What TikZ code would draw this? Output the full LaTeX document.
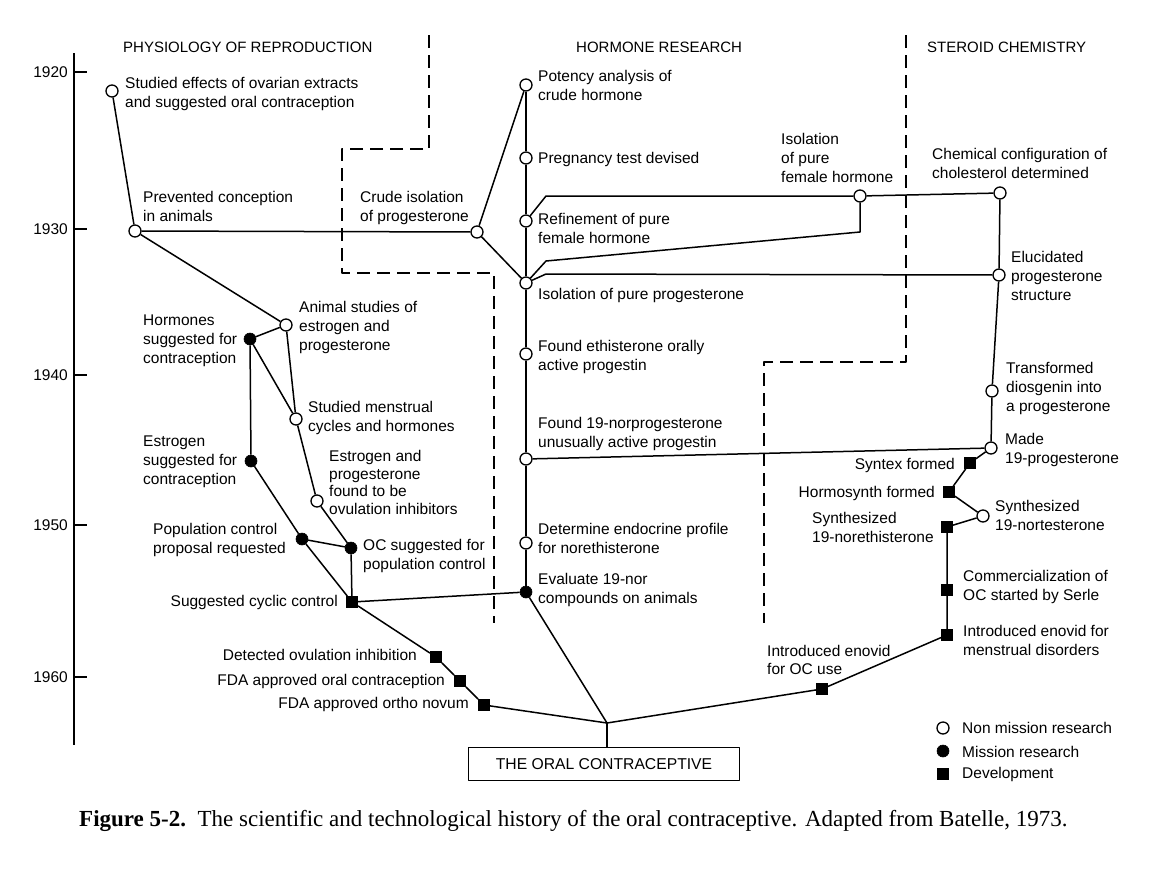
\documentclass[tikz,border=0pt]{standalone}
\usepackage{fontspec}
\setmainfont{Liberation Serif}
\setsansfont{Liberation Sans}
\usetikzlibrary{positioning}
\tikzset {
	nonMission/.style={circle, draw, fill=white, line width=1.3pt, minimum size=12pt, inner sep=0pt},
	mission/.style={circle, draw, fill, line width=0.6pt, minimum size=12pt, inner sep=0pt},
	development/.style={rectangle, fill, minimum size=11.5pt, inner sep=0pt},
	event/.style={font=\sffamily\fontsize{15.5}{19}\selectfont, align=left, inner sep=0pt, anchor=base west},
	eventLeft/.style={event, align=right, anchor=base east},
	heading/.style={font=\sffamily\fontsize{15}{18}\selectfont, inner sep=0pt, anchor=base west},
	fieldBorder/.style={line width=1.7pt, dash pattern=on 13pt off 7pt},
	link/.style={line width=1.5pt}
}

\begin{document}
\begin{tikzpicture}[x=1pt, y=-1pt, line join=round]
	\useasboundingbox (0,0) rectangle (1170,868);
	% time axis
	\draw[link] (74,53) -- (74,745);
	\foreach \yr/\yy in {1920/72, 1930/229, 1940/375, 1950/525, 1960/677} {
		\draw[link] (74,\yy) -- (87,\yy);
		\node (year\yr) [event, anchor=east] at (68,\yy) {\yr};
	}
	% fields
	\node (physio) [heading] at (123,52) {PHYSIOLOGY OF REPRODUCTION};
	\node (hormres) [heading] at (576,52) {HORMONE RESEARCH};
	\node (steroid) [heading] at (927,52) {STEROID CHEMISTRY};
	\draw[fieldBorder] (429,35) -- (429,149) -- (342,149) -- (342,273) -- (494,273) -- (494,623);
	\draw[fieldBorder] (906,35) -- (906,362) -- (764,362) -- (764,623);
	% events
	\node (ovar) [nonMission] at (112,91) {};
	\node (prev) [nonMission] at (135,231) {};
	\node (crude) [nonMission] at (477,232) {};
	\node (potency) [nonMission] at (526,85) {};
	\node (pregn) [nonMission] at (526,158) {};
	\node (refine) [nonMission] at (526,221) {};
	\node (femiso) [nonMission] at (860,196) {};
	\node (chemcfg) [nonMission] at (1000,193) {};
	\node (isoprog) [nonMission] at (526,283) {};
	\node (eluc) [nonMission] at (999,275) {};
	\node (animal) [nonMission] at (286,325) {};
	\node (horm) [mission] at (250,339) {};
	\node (menstr) [nonMission] at (296,419) {};
	\node (ethist) [nonMission] at (526,354) {};
	\node (transf) [nonMission] at (992,391) {};
	\node (norprog) [nonMission] at (526,459) {};
	\node (made) [nonMission] at (991,448) {};
	\node (estro) [mission] at (251,461) {};
	\node (ovinh) [nonMission] at (317,501) {};
	\node (syntex) [development] at (970,463) {};
	\node (hormos) [development] at (949,492) {};
	\node (popctl) [mission] at (302,539) {};
	\node (synnt) [nonMission] at (983,516) {};
	\node (ocpop) [mission] at (351,548) {};
	\node (synne) [development] at (947,527) {};
	\node (endocr) [nonMission] at (526,543) {};
	\node (commerc) [development] at (947,590) {};
	\node (evalnor) [mission] at (526,592) {};
	\node (cyclic) [development] at (352,602) {};
	\node (enovidm) [development] at (947,635) {};
	\node (detect) [development] at (436,657) {};
	\node (fdaoc) [development] at (460,681) {};
	\node (ortho) [development] at (484,705) {};
	\node (enovidoc) [development] at (822,689) {};
	\coordinate (meet) at (607,723);
	\node (pill) [draw, line width=1.5pt, minimum width=271pt, minimum height=33pt, inner sep=0pt,
		font=\sffamily\fontsize{15.7}{18}\selectfont] at (604,764) {THE ORAL CONTRACEPTIVE};
	% labels (placed at the baseline of their last line)
	\node (ovar-t) [event] at (125,107) {Studied effects of ovarian extracts\\and suggested oral contraception};
	\node (prev-t) [event] at (143,221) {Prevented conception\\in animals};
	\node (crude-t) [event] at (360,221) {Crude isolation\\of progesterone};
	\node (potency-t) [event] at (538,100) {Potency analysis of\\crude hormone};
	\node (pregn-t) [event] at (538,163) {Pregnancy test devised};
	\node (refine-t) [event] at (538,243) {Refinement of pure\\female hormone};
	\node (femiso-t) [event] at (781,182) {Isolation\\of pure\\female hormone};
	\node (chemcfg-t) [event] at (932,178) {Chemical configuration of\\cholesterol determined};
	\node (isoprog-t) [event] at (538,299) {Isolation of pure progesterone};
	\node (eluc-t) [event] at (1011,300) {Elucidated\\progesterone\\structure};
	\node (animal-t) [event] at (299,350) {Animal studies of\\estrogen and\\progesterone};
	\node (horm-t) [event] at (143,363) {Hormones\\suggested for\\contraception};
	\node (menstr-t) [event] at (308,431) {Studied menstrual\\cycles and hormones};
	\node (ethist-t) [event] at (538,370) {Found ethisterone orally\\active progestin};
	\node (transf-t) [event] at (1006,411) {Transformed\\diosgenin into\\a progesterone};
	\node (norprog-t) [event] at (538,447) {Found 19-norprogesterone\\unusually active progestin};
	\node (made-t) [event] at (1005,463) {Made\\19-progesterone};
	\node (estro-t) [event] at (143,484) {Estrogen\\suggested for\\contraception};
	\node (ovinh-t) [event, font=\sffamily\fontsize{15.5}{17.5}\selectfont] at (329,514) {Estrogen and\\progesterone\\found to be\\ovulation inhibitors};
	\node (syntex-t) [eventLeft] at (955,469) {Syntex formed};
	\node (hormos-t) [eventLeft] at (935,497) {Hormosynth formed};
	\node (popctl-t) [event] at (153,553) {Population control\\proposal requested};
	\node (synnt-t) [event] at (995,530) {Synthesized\\19-nortesterone};
	\node (ocpop-t) [event] at (363,569) {OC suggested for\\population control};
	\node (synne-t) [event] at (812,542) {Synthesized\\19-norethisterone};
	\node (endocr-t) [event] at (538,553) {Determine endocrine profile\\for norethisterone};
	\node (commerc-t) [event] at (963,600) {Commercialization of\\OC started by Serle};
	\node (evalnor-t) [event] at (538,603) {Evaluate 19-nor\\compounds on animals};
	\node (cyclic-t) [eventLeft] at (338,606) {Suggested cyclic control};
	\node (enovidm-t) [event] at (963,655) {Introduced enovid for\\menstrual disorders};
	\node (enovidoc-t) [event, font=\sffamily\fontsize{15.5}{18}\selectfont] at (767,674) {Introduced enovid\\for OC use};
	\node (detect-t) [eventLeft] at (417,660) {Detected ovulation inhibition};
	\node (fdaoc-t) [eventLeft] at (445,685) {FDA approved oral contraception};
	\node (ortho-t) [eventLeft] at (469,708) {FDA approved ortho novum};
	% links
	\coordinate (refine-k) at (546,196);
	\coordinate (femiso-k1) at (860,232);
	\coordinate (femiso-k2) at (546,261);
	\coordinate (isoprog-k) at (546,274);
	\draw[link] (ovar) -- (prev) -- (crude);
	\draw[link] (prev) -- (animal);
	\draw[link] (potency) -- (crude) -- (isoprog);
	\draw[link] (potency) -- (pregn) -- (refine) -- (isoprog) -- (ethist) -- (norprog) -- (endocr) -- (evalnor);
	\draw[link] (refine) -- (refine-k) -- (femiso) -- (chemcfg);
	\draw[link] (femiso) -- (femiso-k1) -- (femiso-k2) -- (isoprog);
	\draw[link] (isoprog) -- (isoprog-k) -- (eluc);
	\draw[link] (chemcfg) -- (eluc) -- (transf) -- (made) -- (norprog);
	\draw[link] (made) -- (syntex) -- (hormos) -- (synnt) -- (synne) -- (commerc) -- (enovidm) -- (enovidoc) -- (meet);
	\draw[link] (animal) -- (horm) -- (menstr);
	\draw[link] (animal) -- (menstr) -- (ovinh) -- (ocpop) -- (cyclic);
	\draw[link] (horm) -- (estro) -- (popctl) -- (cyclic);
	\draw[link] (popctl) -- (ocpop);
	\draw[link] (cyclic) -- (evalnor) -- (meet);
	\draw[link] (cyclic) -- (detect) -- (fdaoc) -- (ortho) -- (meet);
	\draw[link] (meet) -- (meet |- pill.north);
	% legend
	\node (lgNon) [nonMission] at (943,728) {};
	\node (lgMis) [mission] at (943,751) {};
	\node (lgDev) [development] at (943,774) {};
	\node (lgNon-t) [event] at (962,733) {Non mission research};
	\node (lgMis-t) [event] at (962,757) {Mission research};
	\node (lgDev-t) [event] at (962,778) {Development};
	% caption
	\node (caption) [anchor=base west, inner sep=0pt, font=\fontsize{23}{26}\selectfont] at (79,826)
		{\textbf{Figure 5-2.}\enspace The scientific and technological history of the oral contraceptive. Adapted from Batelle, 1973.};
\end{tikzpicture}
\end{document}
